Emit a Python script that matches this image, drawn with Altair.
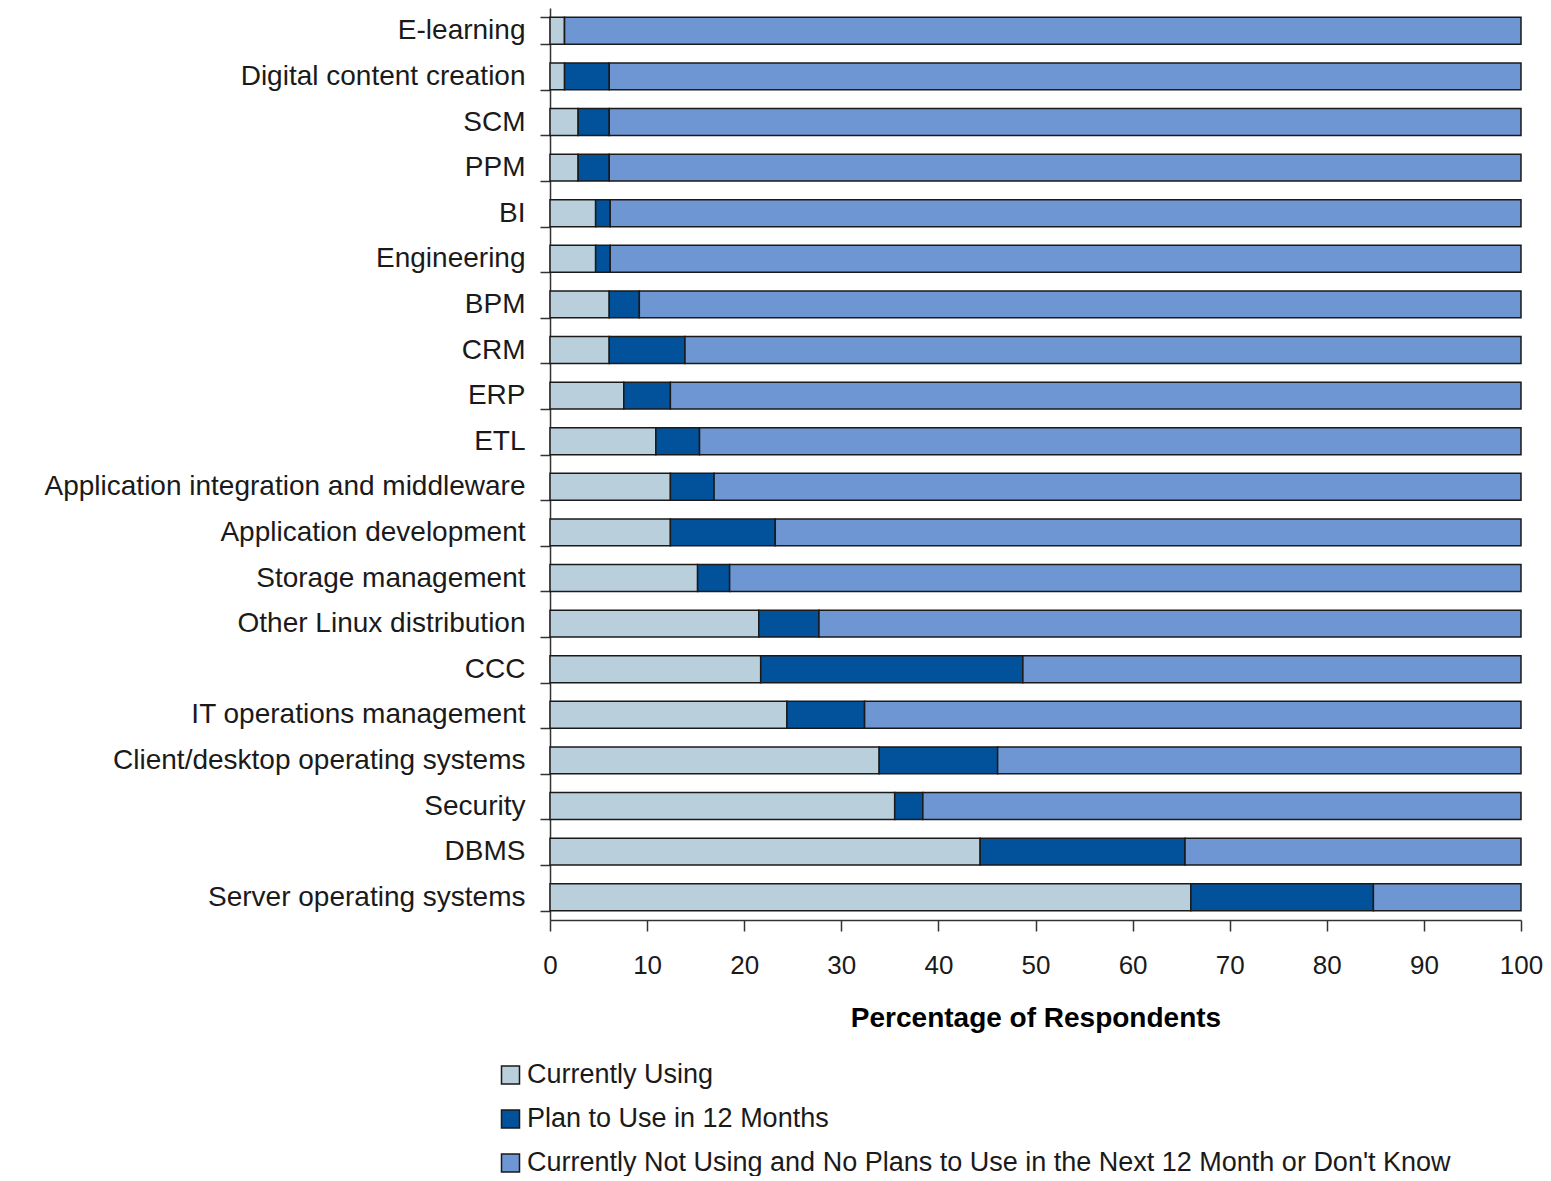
import altair as alt
import pandas as pd

categories = [
    "E-learning", "Digital content creation", "SCM", "PPM", "BI", "Engineering",
    "BPM", "CRM", "ERP", "ETL", "Application integration and middleware",
    "Application development", "Storage management", "Other Linux distribution",
    "CCC", "IT operations management", "Client/desktop operating systems",
    "Security", "DBMS", "Server operating systems",
]
currently_using = [1.5, 1.5, 2.9, 2.9, 4.7, 4.7, 6.1, 6.1, 7.6, 10.9, 12.4, 12.4,
                   15.2, 21.5, 21.7, 24.4, 33.9, 35.5, 44.3, 66.0]
plan_to_use = [0.0, 4.6, 3.2, 3.2, 1.5, 1.5, 3.1, 7.8, 4.8, 4.5, 4.5, 10.8,
               3.3, 6.2, 27.0, 8.0, 12.2, 2.9, 21.1, 18.8]
not_using = [98.5, 93.9, 93.9, 93.9, 93.8, 93.8, 90.8, 86.1, 87.6, 84.6, 83.1, 76.8,
             81.5, 72.3, 51.3, 67.6, 53.9, 61.6, 34.6, 15.2]
series_names = [
    "Currently Using",
    "Plan to Use in 12 Months",
    "Currently Not Using and No Plans to Use in the Next 12 Month or Don't Know",
]
series_colors = ["#b9cfdc", "#01529b", "#6e96d3"]
x_ticks = [0, 10, 20, 30, 40, 50, 60, 70, 80, 90, 100]

rows = []
for i, cat in enumerate(categories):
    for k, vals in enumerate([currently_using, plan_to_use, not_using]):
        rows.append({"category": cat, "series": series_names[k], "order": k, "value": vals[i]})
df = pd.DataFrame(rows)

FONT = "Liberation Sans"

chart = alt.Chart(df).mark_bar(stroke="#1a1a1a", strokeWidth=1.5).encode(
    y=alt.Y(
        "category:N",
        sort=categories,
        scale=alt.Scale(paddingInner=0.41, paddingOuter=0.205),
        axis=alt.Axis(
            title=None,
            labelFont=FONT,
            labelFontSize=28,
            labelColor="#1a1a1a",
            labelPadding=15,
            labelLimit=700,
            tickBand="extent",
            tickSize=10,
            tickColor="#333333",
            tickWidth=1.5,
            domainColor="#333333",
            domainWidth=1.5,
            grid=False,
            minExtent=537,
            maxExtent=537,
        ),
    ),
    x=alt.X(
        "value:Q",
        stack="zero",
        scale=alt.Scale(domain=[0, 100], nice=False),
        axis=alt.Axis(
            title="Percentage of Respondents",
            titleFont=FONT,
            titleFontSize=28,
            titleFontWeight="bold",
            titleColor="#000000",
            titlePadding=26,
            values=x_ticks,
            labelFont=FONT,
            labelFontSize=26,
            labelColor="#1a1a1a",
            labelPadding=21,
            labelFlush=False,
            tickSize=11,
            tickColor="#333333",
            tickWidth=1.5,
            domainColor="#333333",
            domainWidth=1.5,
            grid=False,
        ),
    ),
    color=alt.Color(
        "series:N",
        sort=series_names,
        scale=alt.Scale(domain=series_names, range=series_colors),
        legend=alt.Legend(
            title=None,
            orient="none",
            legendX=-53,
            legendY=1053.5,
            direction="vertical",
            symbolType="square",
            symbolSize=324,
            symbolStrokeColor="#1a1a1a",
            symbolStrokeWidth=1.5,
            symbolOpacity=1,
            labelFont=FONT,
            labelFontSize=27,
            labelColor="#1a1a1a",
            labelOffset=3,
            labelLimit=1200,
            rowPadding=16,
            padding=0,
        ),
    ),
    order=alt.Order("order:Q", sort="ascending"),
).properties(
    width=971,
    height=912,
    autosize=alt.AutoSizeParams(type="none"),
    padding={"left": 542, "top": 0, "right": 22, "bottom": 256},
).configure_view(stroke=None)

chart.save("out.html", embed_options={"renderer": "svg", "actions": False})
